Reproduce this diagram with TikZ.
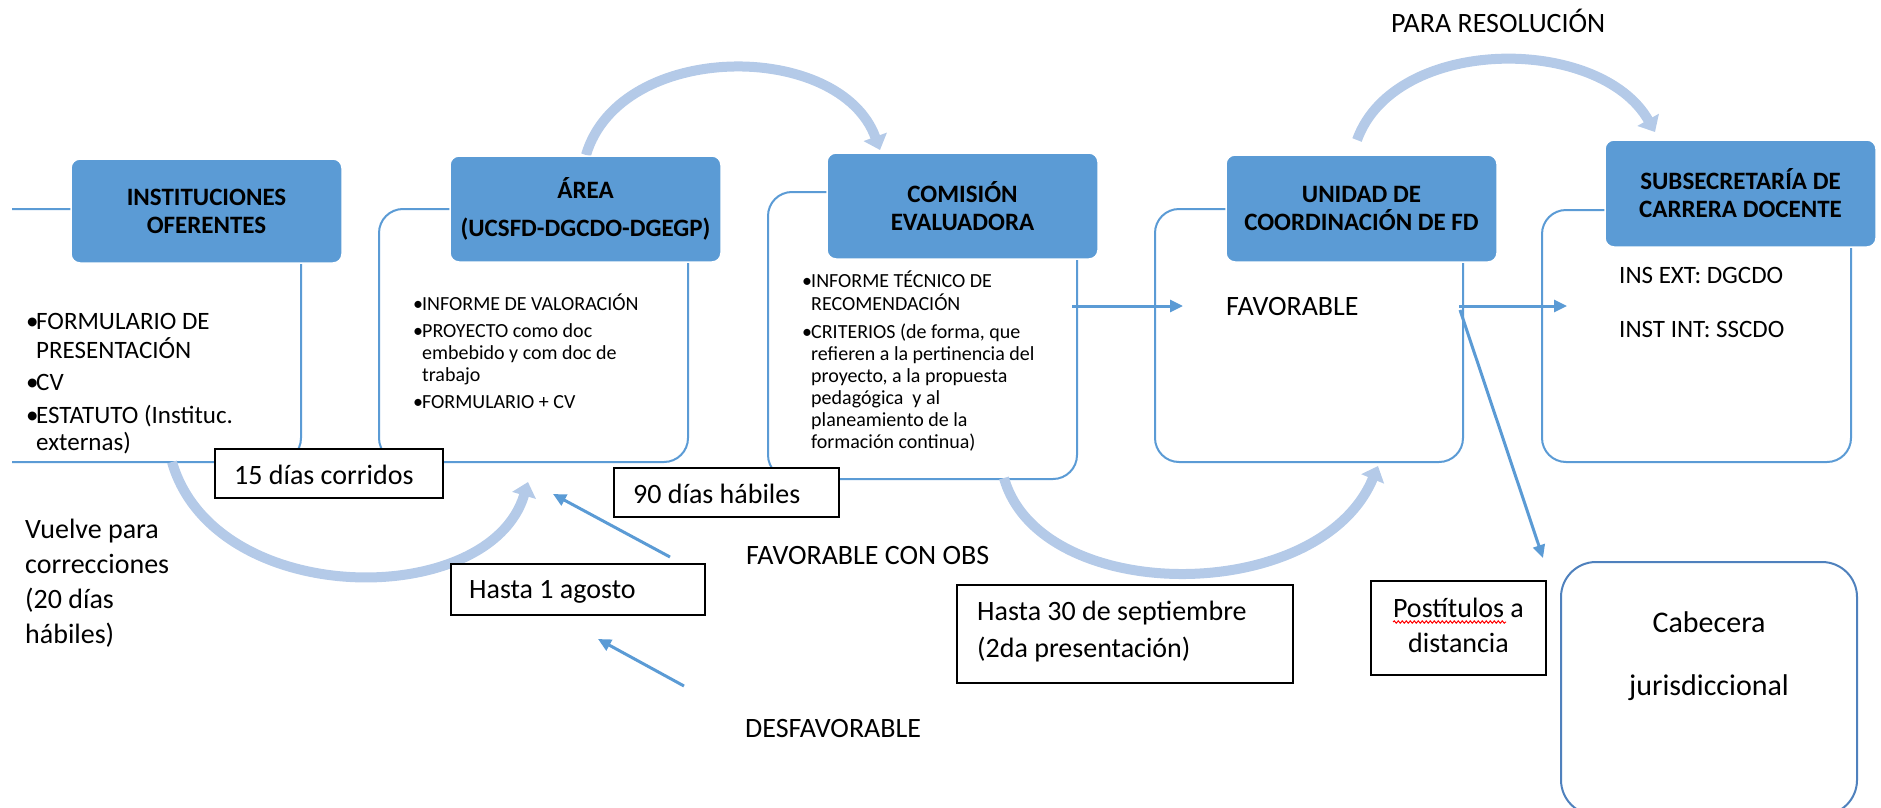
\documentclass[tikz,border=0pt]{standalone}
\usepackage{fontspec}
\setmainfont{Carlito}
\usetikzlibrary{arrows.meta,decorations.pathmorphing}
\definecolor{boxblue}{HTML}{5B9BD5}
\definecolor{arcblue}{HTML}{B4CAE8}
\definecolor{cabblue}{HTML}{4F81BD}
\newcommand{\bul}[1][10pt]{\makebox[#1][l]{\textbullet}}
\tikzset{
  mainbox/.style={rectangle, rounded corners=9pt, fill=boxblue, draw=white, line width=1.5pt,
    align=center, inner sep=0pt, font=\bfseries\fontsize{25}{28}\selectfont},
  outlinebox/.style={rectangle, rounded corners=24pt, draw=boxblue, line width=2pt, inner sep=0pt},
  tbox/.style={rectangle, draw=black, line width=2pt, fill=white, inner sep=0pt},
  cabbox/.style={rectangle, rounded corners=35pt, draw=cabblue, line width=2pt, fill=white, inner sep=0pt},
  bigarc/.style={draw=arcblue, line width=10pt, -{Triangle[length=14pt,width=24pt]}},
  blarrow/.style={draw=boxblue, line width=3pt, -{Triangle[length=13pt,width=12pt]}},
  lbl/.style={anchor=base west, inner sep=0pt, font=\fontsize{28}{34}\selectfont},
}
\begin{document}
\begin{tikzpicture}[x=1pt,y=-1pt]
\useasboundingbox (0,0) rectangle (1881,808);
\clip (0,0) rectangle (1881,808);

% thin outlines
\begin{scope}
\clip (12,0) rectangle (420,808);
\node[outlinebox, minimum width=341pt, minimum height=253pt] (instO) at (130.5,335.5) {};
\end{scope}
\node[outlinebox, minimum width=309pt, minimum height=253pt] (areaO) at (533.5,335.5) {};
\node[outlinebox, minimum width=309pt, minimum height=287pt] (comO) at (922.5,335.5) {};
\node[outlinebox, minimum width=308pt, minimum height=253pt] (uniO) at (1309,335.5) {};
\node[outlinebox, minimum width=309pt, minimum height=252pt] (subO) at (1696.5,336) {};

% coordinates for arc ends
\coordinate (a1s) at (586,155);
\coordinate (a1e) at (880,150);
\coordinate (a2s) at (1357,140);
\coordinate (a2e) at (1655,132);
\coordinate (a3s) at (172,462);
\coordinate (a3e) at (528,482);
\coordinate (a4s) at (1004,478);
\coordinate (a4e) at (1378,466);

% light thick arcs
\draw[bigarc] (a1s) .. controls (620,40) and (840,40) .. (a1e);
\draw[bigarc] (a2s) .. controls (1395,35) and (1600,35) .. (a2e);
\draw[bigarc] (a3s) .. controls (215,610) and (490,610) .. (a3e);
\draw[bigarc] (a4s) .. controls (1040,606) and (1320,606) .. (a4e);

% main boxes
\node[mainbox, minimum width=271pt, minimum height=104pt] (inst) at (206.5,211) {INSTITUCIONES\\OFERENTES};
\node[mainbox, minimum width=271pt, minimum height=106pt] (area) at (585.5,209) {ÁREA\\[10pt](UCSFD-DGCDO-DGEGP)};
\node[mainbox, minimum width=271pt, minimum height=106pt] (com) at (962.5,206) {COMISIÓN\\EVALUADORA};
\node[mainbox, minimum width=271pt, minimum height=107pt] (uni) at (1361.5,208.5) {UNIDAD DE\\COORDINACIÓN DE FD};
\node[mainbox, minimum width=271pt, minimum height=107pt] (sub) at (1740.5,193.5) {SUBSECRETARÍA DE\\CARRERA DOCENTE};

% blue arrows
\coordinate (b1s) at (1072,306);
\coordinate (b1e) at (1183,306);
\coordinate (b2s) at (1459,306);
\coordinate (b2e) at (1567,306);
\coordinate (b3s) at (1460,310);
\coordinate (b3e) at (1543,558);
\coordinate (b4s) at (670,557);
\coordinate (b4e) at (553,494);
\coordinate (b5s) at (684,686);
\coordinate (b5e) at (598,639);
\draw[blarrow] (b1s) -- (b1e);
\draw[blarrow] (b2s) -- (b2e);
\draw[blarrow] (b3s) -- (b3e);
\draw[blarrow] (b4s) -- (b4e);
\draw[blarrow] (b5s) -- (b5e);

% text boxes
\node[tbox, minimum width=228pt, minimum height=49pt] (d15) at (329,473.5) {};
\node[tbox, minimum width=225pt, minimum height=49pt] (d90) at (726.5,492.5) {};
\node[tbox, minimum width=254pt, minimum height=51pt] (h1) at (578,589.5) {};
\node[tbox, minimum width=336pt, minimum height=98pt] (h30) at (1125,634) {};
\node[tbox, minimum width=175pt, minimum height=94pt] (post) at (1458.5,628) {};
\node[cabbox, minimum width=296pt, minimum height=253pt] (cab) at (1709,688.5) {};

% texts
\node[anchor=base west, inner sep=0pt, font=\fontsize{25}{27.5}\selectfont] (instlist) at (26,329)
 {\begin{tabular}[t]{@{}l@{}l@{}}
 \bul & FORMULARIO DE\\ & PRESENTACIÓN\\[5pt]
 \bul & CV\\[5pt]
 \bul & ESTATUTO (Instituc.\\ & externas)
 \end{tabular}};
\node[anchor=base west, inner sep=0pt, font=\fontsize{20}{22}\selectfont] (arealist) at (413,310)
 {\begin{tabular}[t]{@{}l@{}l@{}}
 \bul[9pt] & INFORME DE VALORACIÓN\\[5pt]
 \bul[9pt] & PROYECTO como doc\\ & embebido y com doc de\\ & trabajo\\[5pt]
 \bul[9pt] & FORMULARIO + CV
 \end{tabular}};
\node[anchor=base west, inner sep=0pt, font=\fontsize{20}{22}\selectfont] (comlist) at (802,287)
 {\begin{tabular}[t]{@{}l@{}l@{}}
 \bul[9pt] & INFORME TÉCNICO DE\\ & RECOMENDACIÓN\\[6pt]
 \bul[9pt] & CRITERIOS (de forma, que\\ & refieren a la pertinencia del\\ & proyecto, a la propuesta\\ & pedagógica\ \ y al\\ & planeamiento de la\\ & formación continua)
 \end{tabular}};
\node[lbl] (fav) at (1226,315) {FAVORABLE};
\node[anchor=base west, inner sep=0pt, font=\fontsize{25}{27}\selectfont] (sublist) at (1619,283)
 {\begin{tabular}[t]{@{}l@{}}
 INS EXT: DGCDO\\[27pt]
 INST INT: SSCDO
 \end{tabular}};
\node[lbl] (para) at (1391,33) {PARA RESOLUCIÓN};
\node[lbl] (favobs) at (746,564) {FAVORABLE CON OBS};
\node[lbl] (desfav) at (745,737) {DESFAVORABLE};
\node[anchor=base west, inner sep=0pt, font=\fontsize{28}{35}\selectfont] (vuelve) at (25,538)
 {\begin{tabular}[t]{@{}l@{}}
 Vuelve para\\ correcciones\\ (20 días\\ hábiles)
 \end{tabular}};
\node[lbl] (t15) at (234,484) {15 días corridos};
\node[lbl] (t90) at (633,503) {90 días hábiles};
\node[lbl] (th1) at (469,598) {Hasta 1 agosto};
\node[anchor=base west, inner sep=0pt, font=\fontsize{28}{37}\selectfont] (th30) at (977,620)
 {\begin{tabular}[t]{@{}l@{}}
 Hasta 30 de septiembre\\ (2da presentación)
 \end{tabular}};
\node[anchor=base, inner sep=0pt, font=\fontsize{28}{35}\selectfont] (tpost) at (1458.5,617)
 {\begin{tabular}[t]{@{}c@{}}
 Postítulos a\\ distancia
 \end{tabular}};
\draw[red, line width=1pt, decorate, decoration={snake, amplitude=1.2pt, segment length=4pt}]
  (1393,622) -- (1506,622);
\node[anchor=base, inner sep=0pt, font=\fontsize{30}{36}\selectfont] (tcab) at (1709,632)
 {\begin{tabular}[t]{@{}c@{}}
 Cabecera\\[27pt] jurisdiccional
 \end{tabular}};
\end{tikzpicture}
\end{document}
